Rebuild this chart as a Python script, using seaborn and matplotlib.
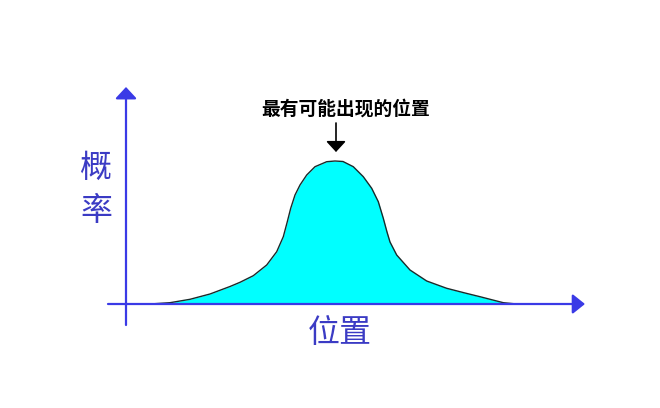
import matplotlib
matplotlib.use('Agg')
import pandas as pd
import seaborn as sns
import matplotlib.pyplot as plt

# DATA
# curve: position vs. probability (height above the baseline)
position = [150, 170, 190, 210, 230, 240, 253.3, 266.7, 276.7, 283.3, 287.3, 290.7, 295,
            300, 306.7, 315, 326.7, 335, 343, 353.3, 363.3, 371.7, 378.3, 383.3, 387,
            390, 396.7, 410, 426.7, 446.7, 465, 480, 503.3, 516.7]
probability = [0, 1.3, 4.7, 10, 17.5, 21.7, 28.3, 39, 52.3, 67.3, 82.3, 95.7, 109,
               119, 129, 137.3, 142.3, 143, 142.5, 137.3, 127.3, 115.7, 102.3, 85.7, 72,
               62, 49, 34, 23, 15.7, 11, 7.3, 1.3, 0]
x_label = '位置'
y_label = ['概', '率']
peak_note = '最有可能出现的位置'

df = pd.DataFrame({'position': position, 'probability': probability})

sns.set_theme(style='white')
plt.rcParams['font.family'] = ['Noto Sans CJK SC', 'DejaVu Sans']

fig = plt.figure(figsize=(6.6, 4.08), dpi=100)
ax = fig.add_axes([0, 0, 1, 1])
ax.set_xlim(0, 660)
ax.set_ylim(-104, 304)
ax.axis('off')

# filled bell curve
ax.fill_between(df['position'], df['probability'], 0, color='#00ffff', lw=0)
sns.lineplot(data=df, x='position', y='probability', color='#1a2a2a', lw=1.0,
             sort=False, ax=ax)

# axes with arrow heads
axis_blue = '#3a3ae6'
ax.annotate('', xy=(585, 0), xytext=(108, 0),
            arrowprops=dict(arrowstyle='-|>,head_length=0.75,head_width=0.6',
                            color=axis_blue, lw=1.6, shrinkA=0, shrinkB=0,
                            mutation_scale=10))
ax.annotate('', xy=(126, 304 - 87), xytext=(126, 304 - 325),
            arrowprops=dict(arrowstyle='-|>,head_length=0.7,head_width=0.65',
                            color=axis_blue, lw=1.6, shrinkA=0, shrinkB=0,
                            mutation_scale=10))

# labels
label_color = '#3b3bc4'
ax.text(340, 304 - 333, x_label, color=label_color, fontsize=23,
        ha='center', va='center')
ax.text(96, 304 - 168, y_label[0], color=label_color, fontsize=23,
        ha='center', va='center')
ax.text(96, 304 - 211, y_label[1], color=label_color, fontsize=23,
        ha='center', va='center')

# peak annotation
peak = df.loc[df['probability'].idxmax()]
ax.text(346, 304 - 109, peak_note, ha='center', va='center',
        fontsize=13.5, fontweight='bold', color='black')
ax.annotate('', xy=(peak['position'] + 1, peak['probability'] + 9),
            xytext=(peak['position'] + 1, 304 - 123),
            arrowprops=dict(arrowstyle='-|>,head_length=0.65,head_width=0.6',
                            color='black', lw=1.2, shrinkA=0, shrinkB=0,
                            mutation_scale=10))

fig.savefig('out.png', dpi=100, facecolor='white')
